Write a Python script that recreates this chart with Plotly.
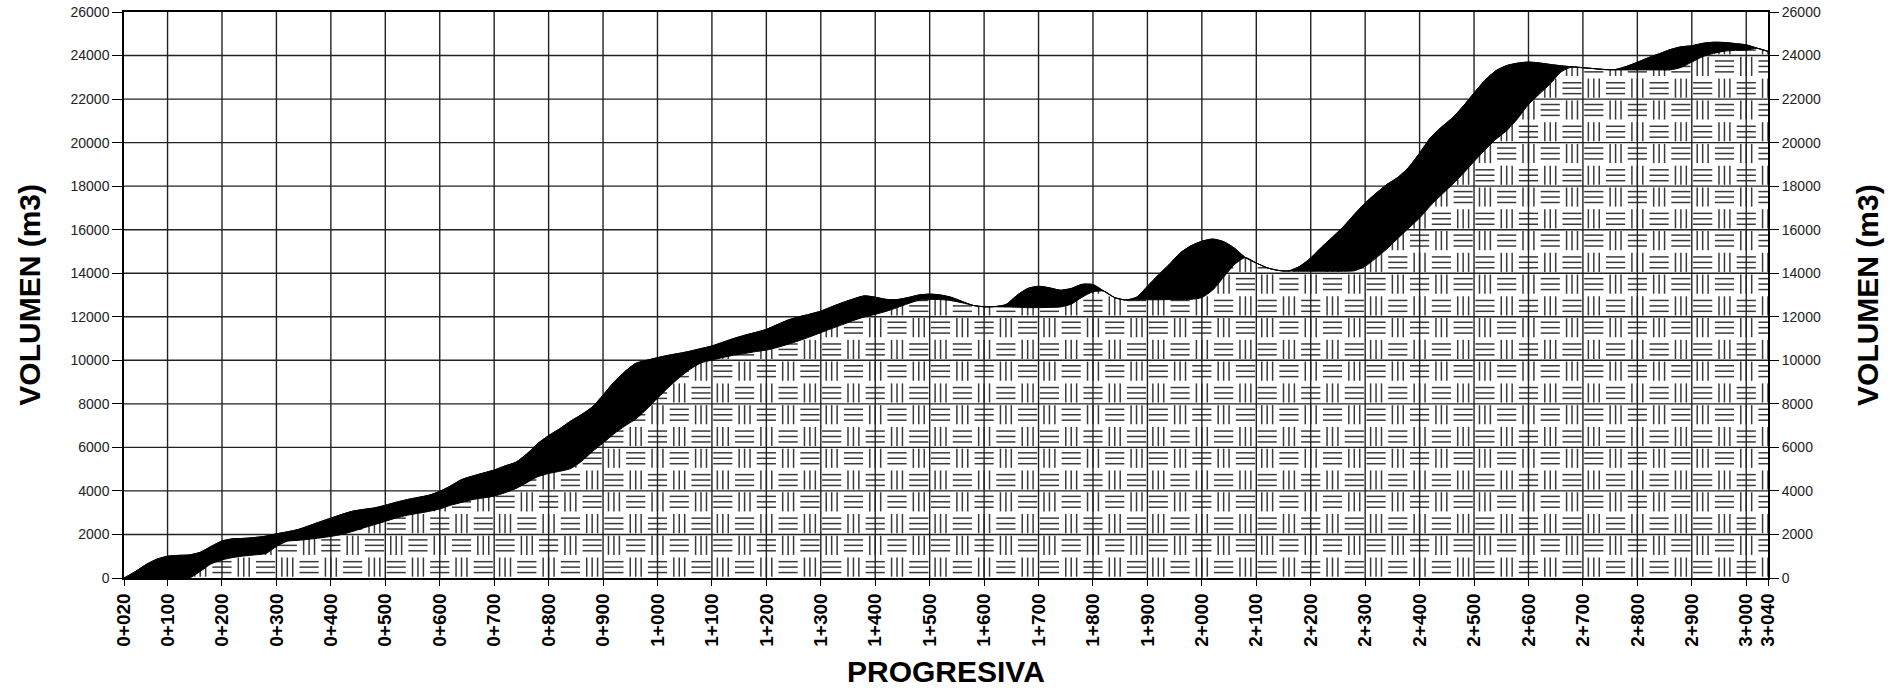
import plotly.graph_objects as go

# Stations (m) along the alignment
stations = list(range(20, 3041, 20))

# Accumulated volumes (m3): upper and lower mass curves
vol_upper = [
    0, 280, 610, 860, 1000, 1040, 1060, 1180, 1450, 1700,
    1800, 1820, 1860, 1920, 2030, 2120, 2230, 2400, 2580, 2750,
    2920, 3070, 3150, 3220, 3340, 3480, 3600, 3700, 3800, 3980,
    4230, 4520, 4680, 4820, 4960, 5150, 5320, 5700, 6180, 6540,
    6850, 7200, 7500, 7850, 8400, 9000, 9480, 9860, 10000, 10120,
    10230, 10320, 10420, 10540, 10660, 10830, 11000, 11150, 11280, 11420,
    11640, 11850, 12000, 12120, 12260, 12460, 12650, 12820, 12960, 12900,
    12800, 12790, 12880, 13000, 13040, 13000, 12890, 12700, 12520, 12460,
    12470, 12560, 12980, 13300, 13400, 13330, 13220, 13300, 13490, 13480,
    13180, 12880, 12770, 12900, 13400, 13920, 14400, 14930, 15260, 15470,
    15570, 15450, 15150, 14720, 14470, 14250, 14130, 14110, 14320, 14700,
    15200, 15660, 16140, 16700, 17230, 17670, 18080, 18400, 18870, 19520,
    20230, 20710, 21130, 21670, 22280, 22860, 23300, 23540, 23650, 23700,
    23660, 23590, 23530, 23480, 23440, 23400, 23360, 23360, 23500, 23690,
    23900, 24080, 24270, 24400, 24450, 24560, 24610, 24600, 24550, 24490,
    24340, 24190,
]
vol_lower = [
    0, 0, 0, 0, 0, 0, 0, 300, 650, 830,
    940, 1010, 1060, 1120, 1450, 1690, 1730, 1780, 1840, 1910,
    2000, 2140, 2300, 2450, 2600, 2760, 2880, 2970, 3060, 3170,
    3340, 3470, 3600, 3680, 3760, 3920, 4110, 4380, 4650, 4800,
    4900, 5020, 5350, 5800, 6200, 6620, 6980, 7300, 7750, 8260,
    8750, 9200, 9590, 9880, 10010, 10130, 10230, 10310, 10400, 10470,
    10590, 10740, 10900, 11080, 11270, 11460, 11640, 11830, 11990, 12110,
    12250, 12420, 12600, 12760, 12800, 12790, 12740, 12640, 12520, 12460,
    12460, 12450, 12440, 12420, 12420, 12430, 12450, 12580, 12900, 13150,
    13180, 12880, 12770, 12780, 12780, 12780, 12790, 12790, 12800, 12880,
    13230, 13820, 14400, 14720, 14470, 14250, 14130, 14100, 14090, 14090,
    14090, 14090, 14090, 14110, 14320, 14700, 15120, 15600, 16070, 16540,
    17100, 17600, 18070, 18580, 19130, 19660, 20150, 20550, 21100, 21750,
    22230, 22700, 23250, 23480, 23440, 23400, 23350, 23340, 23340, 23340,
    23340, 23340, 23340, 23450, 23700, 23950, 24100, 24200, 24240, 24250,
    24330, 24190,
]

x_ticks = [20] + list(range(100, 3001, 100)) + [3040]
x_labels = [f"{v // 1000}+{v % 1000:03d}" for v in x_ticks]
y_ticks = list(range(0, 26001, 2000))

X_MIN, X_MAX = 20, 3040
Y_MIN, Y_MAX = 0, 26000

FONT = "Liberation Sans, Arial, sans-serif"

fig = go.Figure()

# Basket-weave hatch: alternating cells of horizontal / vertical strokes
cell_w, cell_h = 40, 1000
hx, hy = [], []
n_cols = int((X_MAX - X_MIN) / cell_w) + 1
n_rows = int((Y_MAX - Y_MIN) / cell_h)
for j in range(n_rows):
    y0 = Y_MIN + j * cell_h
    for i in range(n_cols):
        x0 = X_MIN + i * cell_w
        if (i + j) % 2 == 0:
            for k in (1, 2, 3):
                yy = y0 + k * cell_h / 4
                hx += [x0 + 0.06 * cell_w, x0 + 0.94 * cell_w, None]
                hy += [yy, yy, None]
        else:
            for k in (1, 2, 3):
                xx = x0 + k * cell_w / 4
                hx += [xx, xx, None]
                hy += [y0 + 0.06 * cell_h, y0 + 0.94 * cell_h, None]

fig.add_trace(go.Scatter(
    x=hx, y=hy, mode="lines", line=dict(color="#3a3a3a", width=1.5),
    hoverinfo="skip", showlegend=False, connectgaps=False,
))

# White area above the upper curve hides the hatch there
fig.add_trace(go.Scatter(
    x=stations, y=[Y_MAX] * len(stations), mode="lines",
    line=dict(width=0), hoverinfo="skip", showlegend=False,
))
fig.add_trace(go.Scatter(
    x=stations, y=vol_upper, mode="lines", fill="tonexty",
    fillcolor="white", line=dict(width=0, shape="spline", smoothing=0.6),
    hoverinfo="skip", showlegend=False,
))

# Grid drawn over the hatch
gx, gy = [], []
for v in x_ticks[1:-1]:
    gx += [v, v, None]
    gy += [Y_MIN, Y_MAX, None]
for v in y_ticks[1:-1]:
    gx += [X_MIN, X_MAX, None]
    gy += [v, v, None]
fig.add_trace(go.Scatter(
    x=gx, y=gy, mode="lines", line=dict(color="#222222", width=1.4),
    hoverinfo="skip", showlegend=False,
))

# Black band between the two mass curves
fig.add_trace(go.Scatter(
    x=stations, y=vol_lower, mode="lines",
    line=dict(color="black", width=1, shape="spline", smoothing=0.6),
    showlegend=False, name="Inferior",
))
fig.add_trace(go.Scatter(
    x=stations, y=vol_upper, mode="lines", fill="tonexty",
    fillcolor="black",
    line=dict(color="black", width=1, shape="spline", smoothing=0.6),
    showlegend=False, name="Superior",
))
# Right-hand volume axis
fig.add_trace(go.Scatter(
    x=stations, y=vol_upper, mode="lines", yaxis="y2",
    line=dict(color="black", width=1, shape="spline", smoothing=0.6),
    showlegend=False, hoverinfo="skip",
))

yaxis_common = dict(
    range=[Y_MIN, Y_MAX], tickvals=y_ticks, ticktext=[str(v) for v in y_ticks],
    ticks="outside", ticklen=10, tickwidth=1.2, tickcolor="black",
    tickfont=dict(family=FONT, size=14, color="#222"),
    showgrid=False, zeroline=False, automargin=False,
)

fig.update_layout(
    width=1896, height=688,
    margin=dict(l=124, r=128, t=12, b=110),
    paper_bgcolor="white", plot_bgcolor="white",
    xaxis=dict(
        range=[X_MIN, X_MAX], tickvals=x_ticks, ticktext=x_labels,
        tickangle=-90, ticks="outside", ticklen=6, tickwidth=1.2,
        tickcolor="black",
        tickfont=dict(family=FONT, size=19, color="black", weight="bold"),
        showgrid=False, zeroline=False, automargin=False,
        showline=True, linecolor="black", linewidth=1.5, mirror=True,
    ),
    yaxis=dict(
        **yaxis_common,
        showline=True, linecolor="black", linewidth=1.5, mirror=True,
    ),
    yaxis2=dict(
        **yaxis_common, overlaying="y", side="right", matches="y",
        showline=False,
    ),
    annotations=[
        dict(text="<b>PROGRESIVA</b>", xref="paper", yref="paper",
             x=0.5, y=-0.166, xanchor="center", yanchor="middle",
             showarrow=False, font=dict(family=FONT, size=30, color="black")),
        dict(text="<b>VOLUMEN (m3)</b>", xref="paper", yref="paper",
             x=-0.058, y=0.5, xanchor="center", yanchor="middle",
             textangle=-90, showarrow=False,
             font=dict(family=FONT, size=30, color="black")),
        dict(text="<b>VOLUMEN (m3)</b>", xref="paper", yref="paper",
             x=1.0602, y=0.5, xanchor="center", yanchor="middle",
             textangle=-90, showarrow=False,
             font=dict(family=FONT, size=30, color="black")),
    ],
)

fig.write_html("out.html")
